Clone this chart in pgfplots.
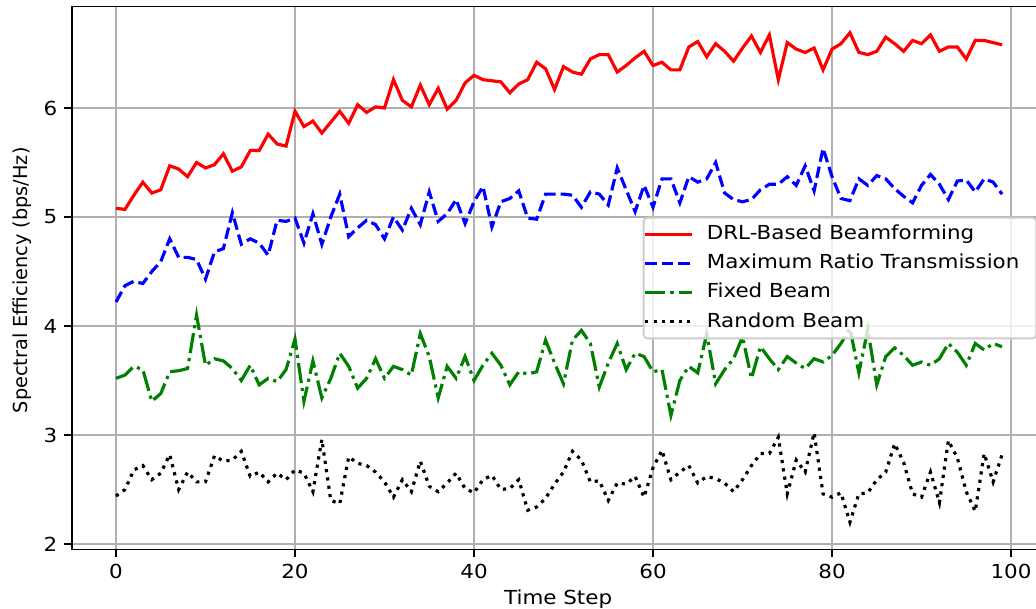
\documentclass[border=0pt]{standalone}
\usepackage{pgfplots}
\usepackage{pgfplotstable}
\pgfplotsset{compat=1.18}
\usepackage{fontspec}
\setmainfont{DejaVu Sans}[FakeStretch=1.11]
\newfontfamily\ylabfont{DejaVu Sans}
\definecolor{mplgreen}{rgb}{0,0.5,0}
\definecolor{gridgray}{HTML}{B0B0B0}
\definecolor{legedge}{HTML}{CCCCCC}

\pgfplotstableread{
i drl mrt fixed rnd
0 5.08 4.22 3.52 2.44
1 5.07 4.37 3.55 2.50
2 5.20 4.41 3.63 2.68
3 5.32 4.39 3.60 2.72
4 5.22 4.50 3.31 2.59
5 5.25 4.59 3.38 2.65
6 5.47 4.80 3.58 2.82
7 5.44 4.63 3.59 2.50
8 5.37 4.63 3.61 2.66
9 5.50 4.61 4.10 2.57
10 5.45 4.43 3.64 2.57
11 5.48 4.68 3.70 2.81
12 5.58 4.71 3.68 2.76
13 5.42 5.04 3.61 2.77
14 5.46 4.75 3.50 2.85
15 5.61 4.80 3.64 2.62
16 5.61 4.76 3.46 2.66
17 5.76 4.65 3.52 2.57
18 5.67 4.97 3.49 2.65
19 5.65 4.96 3.60 2.59
20 5.97 4.99 3.88 2.68
21 5.83 4.76 3.31 2.65
22 5.88 5.03 3.68 2.48
23 5.77 4.75 3.34 2.96
24 5.87 5.00 3.52 2.40
25 5.97 5.21 3.75 2.37
26 5.86 4.82 3.63 2.80
27 6.03 4.90 3.43 2.74
28 5.96 4.97 3.52 2.72
29 6.01 4.93 3.70 2.66
30 6.00 4.80 3.52 2.57
31 6.26 5.00 3.63 2.43
32 6.07 4.88 3.60 2.59
33 6.01 5.08 3.55 2.48
34 6.21 4.93 3.93 2.76
35 6.03 5.23 3.72 2.53
36 6.18 4.96 3.34 2.48
37 5.99 5.03 3.63 2.56
38 6.07 5.16 3.52 2.65
39 6.23 4.94 3.72 2.51
40 6.30 5.14 3.50 2.47
41 6.26 5.28 3.64 2.59
42 6.25 4.91 3.75 2.63
43 6.24 5.14 3.64 2.50
44 6.14 5.17 3.46 2.51
45 6.22 5.24 3.58 2.59
46 6.26 4.99 3.56 2.31
47 6.42 4.98 3.58 2.34
48 6.36 5.21 3.87 2.42
49 6.17 5.21 3.66 2.55
50 6.38 5.21 3.47 2.66
51 6.33 5.20 3.87 2.85
52 6.31 5.09 3.96 2.77
53 6.45 5.23 3.84 2.57
54 6.49 5.21 3.44 2.58
55 6.49 5.11 3.66 2.40
56 6.33 5.45 3.84 2.56
57 6.39 5.25 3.60 2.55
58 6.46 5.05 3.75 2.62
59 6.52 5.29 3.72 2.43
60 6.39 5.09 3.58 2.70
61 6.42 5.35 3.60 2.86
62 6.35 5.35 3.18 2.59
63 6.35 5.13 3.50 2.66
64 6.56 5.37 3.63 2.72
65 6.61 5.32 3.57 2.56
66 6.47 5.35 3.93 2.62
67 6.59 5.50 3.47 2.60
68 6.52 5.22 3.60 2.56
69 6.43 5.16 3.70 2.48
70 6.55 5.14 3.90 2.59
71 6.66 5.16 3.52 2.72
72 6.51 5.25 3.81 2.83
73 6.67 5.30 3.70 2.83
74 6.26 5.30 3.60 2.98
75 6.60 5.37 3.72 2.46
76 6.54 5.29 3.66 2.77
77 6.51 5.47 3.61 2.66
78 6.55 5.24 3.70 3.02
79 6.35 5.63 3.67 2.46
80 6.54 5.37 3.73 2.43
81 6.59 5.17 3.84 2.47
82 6.69 5.15 3.98 2.20
83 6.51 5.35 3.57 2.46
84 6.49 5.29 3.97 2.47
85 6.52 5.38 3.46 2.59
86 6.65 5.35 3.72 2.66
87 6.59 5.26 3.80 2.92
88 6.52 5.19 3.73 2.75
89 6.62 5.13 3.64 2.46
90 6.59 5.29 3.67 2.43
91 6.67 5.39 3.64 2.66
92 6.52 5.30 3.70 2.38
93 6.56 5.16 3.84 2.95
94 6.56 5.33 3.76 2.79
95 6.45 5.34 3.64 2.48
96 6.62 5.23 3.84 2.30
97 6.62 5.35 3.78 2.83
98 6.60 5.32 3.84 2.57
99 6.58 5.21 3.81 2.82
}\data

\begin{document}
\begin{tikzpicture}
\begin{axis}[
  x=4.475pt, y=54.5pt,
  xmin=-4.95, xmax=103.95, ymin=1.95, ymax=6.93,
  xtick={0,20,...,100}, ytick={2,3,4,5,6},
  tick align=outside, tick pos=left,
  major tick length=3.65pt,
  every tick/.style={black, line width=0.84pt},
  axis line style={line width=0.84pt},
  grid=major,
  grid style={gridgray, line width=0.84pt},
  /pgf/number format/assume math mode=true,
  tick label style={font=\fontsize{9.65}{11.5}\selectfont},
  xlabel={Time Step},
  ylabel={Spectral Efficiency (bps/Hz)},
  xlabel style={at={(axis cs:49.4,1.49)}, anchor=center, font=\fontsize{9.65}{11.5}\selectfont},
  ylabel style={at={(axis cs:-10.5,4.42)}, anchor=center, font=\ylabfont\fontsize{9.65}{11.5}\selectfont},
  legend cell align=left,
  legend image code/.code={\draw[#1] (0pt,0pt) -- (23.5pt,0pt);},
  legend style={at={(1,0.5)}, anchor=east, xshift=-4.5pt,
    draw=legedge, line width=1pt, fill=white, fill opacity=0.8, text opacity=1,
    rounded corners=2pt, font=\fontsize{9.65}{11.5}\selectfont,
    inner xsep=0pt, inner ysep=1pt,
    nodes={inner xsep=0pt, inner ysep=2.5pt, text height=7.4pt, text depth=2.2pt},
    /tikz/every odd column/.append style={column sep=6.5pt}},
]
\addplot[red, line width=1.58pt, solid] table[x=i, y=drl] {\data};
\addlegendentry{DRL-Based Beamforming}
\addplot[blue, line width=1.58pt, dash pattern=on 5.8pt off 2.5pt] table[x=i, y=mrt] {\data};
\addlegendentry{Maximum Ratio Transmission\rule{8.5pt}{0pt}}
\addplot[mplgreen, line width=1.58pt, dash pattern=on 10.1pt off 2.5pt on 1.6pt off 2.5pt] table[x=i, y=fixed] {\data};
\addlegendentry{Fixed Beam}
\addplot[black, line width=1.58pt, dash pattern=on 1.6pt off 2.6pt] table[x=i, y=rnd] {\data};
\addlegendentry{Random Beam}
\coordinate (bbSW) at (axis cs:-12.96,1.413);
\coordinate (bbNE) at (axis cs:102.79,6.991);
\end{axis}
\pgfresetboundingbox
\path[use as bounding box] (bbSW) rectangle (bbNE);
\end{tikzpicture}
\end{document}
